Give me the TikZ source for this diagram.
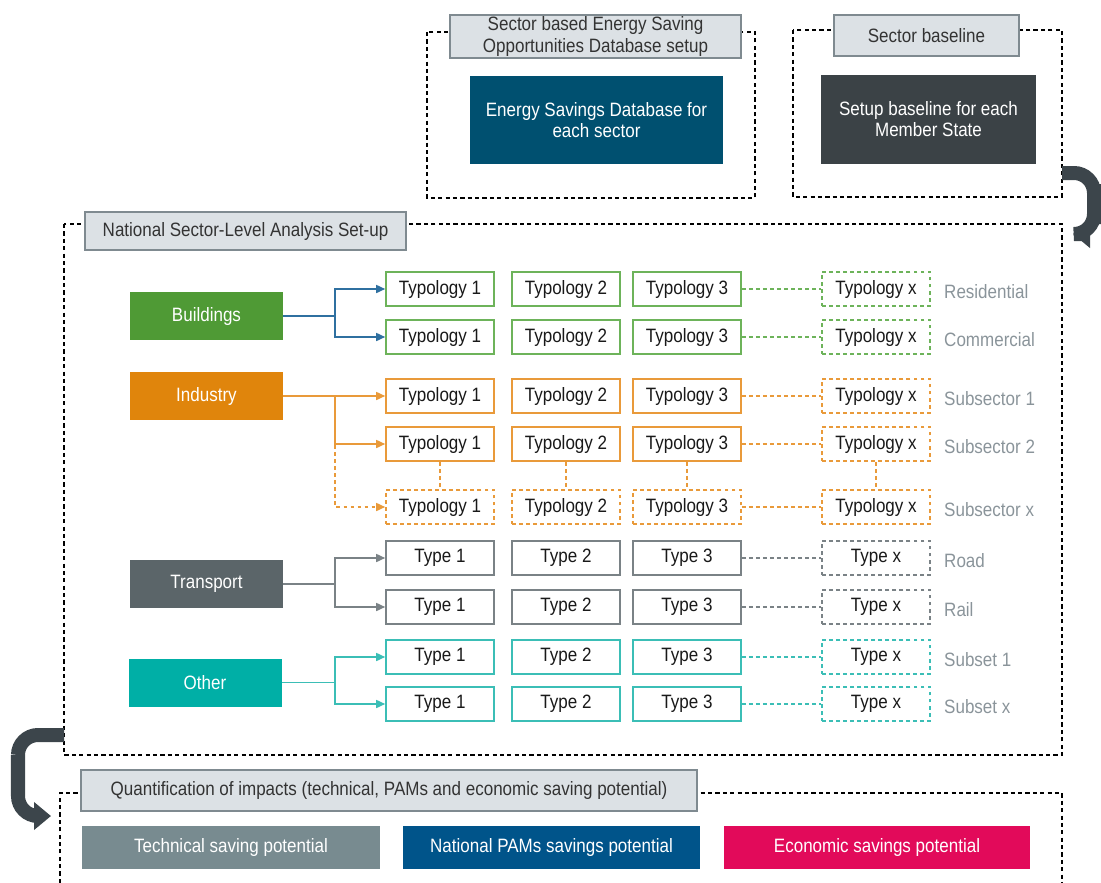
\documentclass[tikz,border=0pt]{standalone}
\usepackage{fontspec}
\setmainfont{Liberation Sans}[FakeStretch=0.88]
\usetikzlibrary{arrows.meta}
\definecolor{headfill}{HTML}{DCE1E5}
\definecolor{headdraw}{HTML}{7F8A90}
\definecolor{dbblue}{HTML}{005070}
\definecolor{basedark}{HTML}{3B4246}
\definecolor{bldgreen}{HTML}{4F9A35}
\definecolor{gline}{HTML}{6DB35A}
\definecolor{indorange}{HTML}{E0850C}
\definecolor{oline}{HTML}{E99A3A}
\definecolor{trgray}{HTML}{5B6569}
\definecolor{tline}{HTML}{7A8286}
\definecolor{othteal}{HTML}{00AFA6}
\definecolor{eline}{HTML}{3BBEB6}
\definecolor{bluelink}{HTML}{2F70A0}
\definecolor{sublab}{HTML}{8A949A}
\definecolor{techgray}{HTML}{788B90}
\definecolor{pamblue}{HTML}{00548A}
\definecolor{econred}{HTML}{E20A5A}
\definecolor{bigarrow}{HTML}{3C454B}
\tikzset{
  every node/.style={font=\fontsize{11}{12}\selectfont},
  dashes/.style={dash pattern=on 2.2pt off 1.8pt},
  frame/.style={draw=black,line width=0.6pt,dash pattern=on 2.4pt off 1.8pt},
  header/.style={rectangle,draw=headdraw,fill=headfill,line width=0.6pt,inner sep=0,align=center,text=black!80},
  block/.style={rectangle,fill=#1,text=white,inner sep=0,align=center},
  sector/.style={block=#1,minimum width=30.6mm,minimum height=9.6mm},
  typo/.style={rectangle,draw=#1,fill=white,line width=0.9pt,minimum width=21.6mm,minimum height=6.8mm,inner sep=0,text=black!90},
  % feeds from a sector box into its first column of typologies
  feed/.style={draw=#1,line width=0.9pt,-{Triangle[length=1.8mm,width=1.6mm]}},
  link/.style={draw=#1,line width=0.9pt,dashes},
  subname/.style={anchor=west,text=sublab},
  turn/.style={draw=bigarrow,line width=2.8mm,rounded corners=4mm,-{Triangle[length=3.4mm,width=5.4mm]}},
}
\begin{document}
\begin{tikzpicture}[x=0.2mm,y=-0.2mm]
  \useasboundingbox (0,0) rectangle (1101,883);
  % containers
  \draw[frame] (427,32) rectangle (755,198);
  \draw[frame] (793,30) rectangle (1062,197);
  \draw[frame] (64,224) rectangle (1062,755);
  \draw[frame] (60,883) |- (1062,793) -- (1062,883);
  \node[header,minimum width=58.2mm,minimum height=8.6mm] (dbhead) at (595.5,36.5)
    {Sector based Energy Saving\\Opportunities Database setup};
  \node[header,minimum width=37mm,minimum height=8.2mm] (basehead) at (926.5,35.5) {Sector baseline};
  \node[header,minimum width=64.2mm,minimum height=7.6mm] (nathead) at (245.5,231)
    {National Sector-Level Analysis Set-up};
  \node[header,minimum width=123.2mm,minimum height=8.2mm] (quanthead) at (389,790.5)
    {Quantification of impacts (technical, PAMs and economic saving potential)};
  \node[block=dbblue,minimum width=50.6mm,minimum height=17.6mm] (db) at (596.5,120)
    {Energy Savings Database for\\each sector};
  \node[block=basedark,minimum width=43mm,minimum height=17.8mm] (base) at (928.5,119.5)
    {Setup baseline for each\\Member State};
  % turning arrows between the stages
  \coordinate (topout) at (1062,173);
  \coordinate (topin) at (1073,234);
  \draw[turn] (topout) -| (1094,204) |- (topin);
  \coordinate (midout) at (64,735);
  \coordinate (midin) at (51,816);
  \draw[turn] (midout) -| (18,775) |- (midin);
  % sectors
  \node[sector=bldgreen] (bld) at (206.5,316) {Buildings};
  \node[sector=indorange] (ind) at (206.5,396) {Industry};
  \node[sector=trgray] (trn) at (206.5,584) {Transport};
  \node[sector=othteal] (oth) at (205,682.5) {Other};
  % typology rows
  \foreach \r/\y/\c/\d/\w/\l in {
      b1/289/gline/solid/Typology/Residential,
      b2/337/gline/solid/Typology/Commercial,
      i1/396/oline/solid/Typology/Subsector 1,
      i2/444/oline/solid/Typology/Subsector 2,
      i3/507/oline/dashes/Typology/Subsector x,
      t1/558/tline/solid/Type/Road,
      t2/607/tline/solid/Type/Rail,
      o1/657/eline/solid/Type/Subset 1,
      o2/704/eline/solid/Type/Subset x}{
    \node[typo=\c,\d] (\r-c1) at (440,\y) {\w\ 1};
    \node[typo=\c,\d] (\r-c2) at (566,\y) {\w\ 2};
    \node[typo=\c,\d] (\r-c3) at (687,\y) {\w\ 3};
    \node[typo=\c,dashes] (\r-cx) at (876,\y) {\w\ x};
    \draw[link=\c] (\r-c3) -- (\r-cx);
    \node[subname] (\r-lab) at (938,\y+3) {\l};
  }
  \foreach \k in {c1,c2,c3,cx}
    \draw[link=oline] (i2-\k) -- (i3-\k);
  % feeds
  \coordinate (bsplit) at (335,316);
  \draw[feed=bluelink] (bld.east) -- (bsplit) |- (b1-c1.west);
  \draw[feed=bluelink] (bsplit) |- (b2-c1.west);
  \coordinate (isplit) at (335,396);
  \draw[feed=oline] (ind.east) -- (i1-c1.west);
  \draw[feed=oline] (isplit) |- (i2-c1.west);
  \draw[feed=oline,dashes] (isplit) |- (i3-c1.west);
  \coordinate (tsplit) at (335,584);
  \draw[feed=tline] (trn.east) -- (tsplit) |- (t1-c1.west);
  \draw[feed=tline] (tsplit) |- (t2-c1.west);
  \coordinate (osplit) at (335,682.5);
  \draw[feed=eline] (oth.east) -- (osplit) |- (o1-c1.west);
  \draw[feed=eline] (osplit) |- (o2-c1.west);
  % savings potentials
  \node[block=techgray,minimum width=59.6mm,minimum height=8.6mm] (tech) at (231,847.5) {Technical saving potential};
  \node[block=pamblue,minimum width=59.4mm,minimum height=8.6mm] (pams) at (551.5,847.5) {National PAMs savings potential};
  \node[block=econred,minimum width=61.2mm,minimum height=8.6mm] (econ) at (877,847.5) {Economic savings potential};
\end{tikzpicture}
\end{document}
